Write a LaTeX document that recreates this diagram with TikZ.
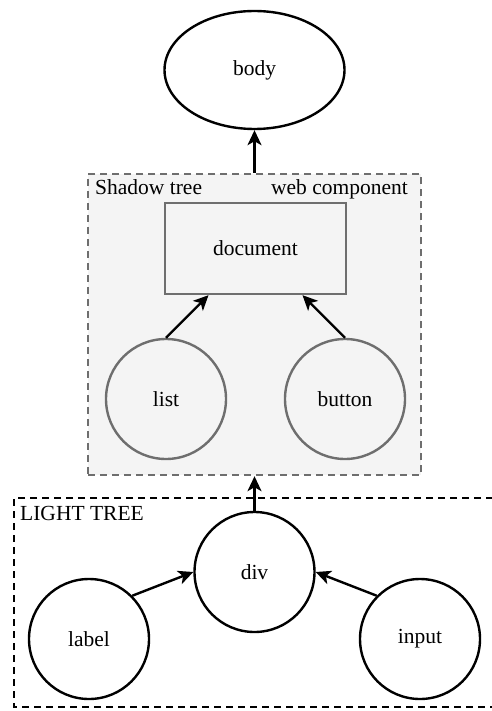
\documentclass[tikz,border=0pt]{standalone}
\usepackage{fontspec}
\setmainfont{Liberation Serif}
\usetikzlibrary{arrows.meta,shapes.geometric}
\definecolor{shadowfill}{HTML}{F4F4F4}
\definecolor{shadowline}{HTML}{6E6E6E}

\begin{document}
\begin{tikzpicture}[x=1pt,y=-1pt,
  font=\fontsize{21.5}{26}\selectfont,
  blk/.style={draw=black, line width=2.4pt},
  gry/.style={draw=shadowline, line width=2.4pt, fill=shadowfill},
  circ/.style={circle, minimum size=120pt, inner sep=0pt},
  region/.style={line width=2.4pt, dash pattern=on 7pt off 5pt},
  edge/.style={draw=black, line width=2.4pt,
    -{Stealth[length=15pt,width=14pt,inset=4pt]}}]
\useasboundingbox (0,0) rectangle (491,711);

% outer page element
\node[blk, ellipse, minimum width=180pt, minimum height=118pt, inner sep=0pt]
  (body) at (254.5,70) {body};

% shadow tree of the web component
\node[region, draw=shadowline, fill=shadowfill, rectangle,
  minimum width=333pt, minimum height=301pt, inner sep=0pt]
  (shadow) at (254.5,324.5) {};
\node[anchor=base west, inner sep=0pt] (shadowtitle) at (95,195) {Shadow tree};
\node[anchor=base east, inner sep=0pt] (webtitle) at (408,195) {web component};
\node[gry, rectangle, minimum width=181pt, minimum height=91pt, inner sep=0pt]
  (document) at (255.5,248.5) {document};
\node[gry, circ] (list) at (166,399) {list};
\node[gry, circ] (button) at (345,399) {button};

% light tree (open on the right)
\draw[region, draw=black] (493,498) -- (14,498) -- (14,707) -- (493,707);
\node[anchor=base west, inner sep=0pt] (lighttitle) at (20,520) {LIGHT TREE};
\node[blk, circ] (div) at (254.5,572) {div};
\node[blk, circ] (label) at (89,639) {label};
\node[blk, circ] (input) at (420,639) {input};

% connectors
\draw[edge] (shadow.north) -- (body.south);
\draw[edge] (list.north) -- ([xshift=-47pt]document.south);
\draw[edge] (button.north) -- ([xshift=47pt]document.south);
\draw[edge] (div.north) -- (shadow.south);
\draw[edge] (label.45) -- (div.west);
\draw[edge] (input.135) -- (div.east);
\end{tikzpicture}
\end{document}
